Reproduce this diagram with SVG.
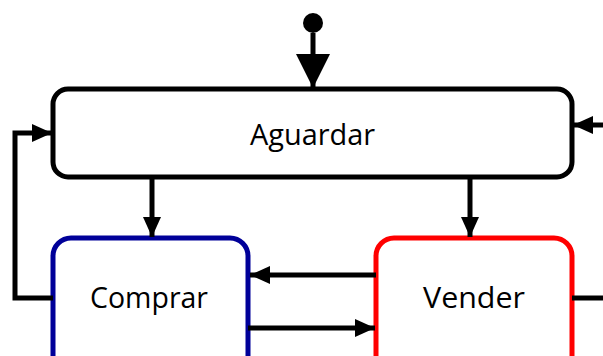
<svg xmlns="http://www.w3.org/2000/svg" width="603" height="356" viewBox="0 0 603 356">
<style>
.box{fill:#fff;stroke-width:5}
.lbl{font-family:"Open Sans","Liberation Sans",sans-serif;font-size:30px;fill:#000;text-anchor:middle}
.c{fill:none;stroke:#000;stroke-width:5}
</style>
<defs>
<marker id="ah" markerUnits="userSpaceOnUse" markerWidth="20" markerHeight="18" refX="20" refY="9" orient="auto">
<path d="M0,0 L20,9 L0,18 Z" fill="#000"/>
</marker>
<marker id="big" markerUnits="userSpaceOnUse" markerWidth="34" markerHeight="34" refX="34" refY="17" orient="auto">
<path d="M0,0 L34,17 L0,34 Z" fill="#000"/>
</marker>
</defs>
<g id="start">
<circle cx="313" cy="23" r="10" fill="#000"/>
</g>
<g id="aguardar">
<rect class="box" x="53" y="89" width="519" height="88" rx="15" stroke="#000"/>
<text class="lbl" x="312.5" y="145" textLength="125" lengthAdjust="spacingAndGlyphs">Aguardar</text>
</g>
<g id="comprar">
<rect class="box" x="53" y="238" width="195" height="140" rx="18" stroke="#000099"/>
<text class="lbl" x="149" y="308" textLength="118" lengthAdjust="spacingAndGlyphs">Comprar</text>
</g>
<g id="vender">
<rect class="box" x="376" y="238" width="196" height="140" rx="18" stroke="#ff0000"/>
<text class="lbl" x="474" y="308" textLength="102" lengthAdjust="spacingAndGlyphs">Vender</text>
</g>
<g id="connectors">
<path class="c" d="M313,33 V88" marker-end="url(#big)"/>
<path class="c" d="M152,177 V237" marker-end="url(#ah)"/>
<path class="c" d="M470,177 V237" marker-end="url(#ah)"/>
<path class="c" d="M376,275 H250" marker-end="url(#ah)"/>
<path class="c" d="M248,328 H375" marker-end="url(#ah)"/>
<path class="c" d="M53,298 H15 V133 H52" marker-end="url(#ah)"/>
<path class="c" d="M603,125 H573" marker-end="url(#ah)"/>
<path class="c" d="M572,298 H603"/>
</g>
</svg>
